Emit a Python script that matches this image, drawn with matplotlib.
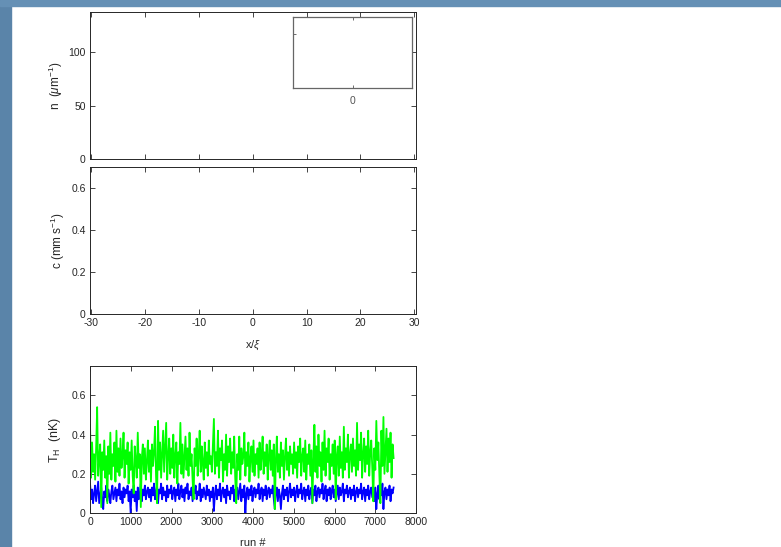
import numpy as np
import matplotlib
matplotlib.use("Agg")
import matplotlib.pyplot as plt
from matplotlib.patches import Rectangle

plt.rcParams['font.family'] = ['Liberation Sans', 'DejaVu Sans']
plt.rcParams['mathtext.fontset'] = 'custom'
plt.rcParams['mathtext.rm'] = 'Liberation Sans'
plt.rcParams['mathtext.it'] = 'Liberation Sans:italic'
plt.rcParams['axes.unicode_minus'] = False

# panel limits / ticks
x_ticks = [-30, -20, -10, 0, 10, 20, 30]
n_ticks = [0, 50, 100]
c_ticks = [0, 0.2, 0.4, 0.6]
run_ticks = [0, 1000, 2000, 3000, 4000, 5000, 6000, 7000, 8000]
th_ticks = [0, 0.2, 0.4, 0.6]

# T_H per run (green and blue traces), ~25 runs apart
th_green = [
    0.45, 0.18, 0.36, 0.21, 0.30, 0.17, 0.33, 0.54, 0.19, 0.28, 0.35, 0.03, 0.31, 0.22, 0.37, 0.18, 0.29, 0.05, 0.34, 0.20,
    0.41, 0.17, 0.30, 0.24, 0.36, 0.16, 0.42, 0.21, 0.33, 0.19, 0.38, 0.23, 0.29, 0.41, 0.18, 0.32, 0.25, 0.36, 0.15, 0.31,
    0.22, 0.37, 0.19, 0.10, 0.34, 0.27, 0.18, 0.41, 0.23, 0.30, 0.03, 0.28, 0.35, 0.20, 0.33, 0.17, 0.26, 0.37, 0.21, 0.32,
    0.16, 0.35, 0.24, 0.31, 0.44, 0.19, 0.05, 0.47, 0.22, 0.36, 0.18, 0.30, 0.42, 0.21, 0.34, 0.46, 0.17, 0.29, 0.38, 0.20,
    0.33, 0.23, 0.40, 0.18, 0.29, 0.36, 0.15, 0.31, 0.25, 0.46, 0.20, 0.35, 0.18, 0.28, 0.39, 0.22, 0.33, 0.19, 0.41, 0.24,
    0.30, 0.17, 0.07, 0.33, 0.24, 0.38, 0.19, 0.29, 0.42, 0.21, 0.34, 0.26, 0.17, 0.36, 0.23, 0.31, 0.19, 0.37, 0.25, 0.29,
    0.21, 0.34, 0.48, 0.20, 0.31, 0.24, 0.42, 0.18, 0.33, 0.27, 0.37, 0.16, 0.30, 0.22, 0.40, 0.19, 0.34, 0.26, 0.38, 0.20,
    0.31, 0.23, 0.39, 0.18, 0.05, 0.30, 0.22, 0.39, 0.17, 0.33, 0.25, 0.29, 0.41, 0.19, 0.31, 0.24, 0.36, 0.16, 0.28, 0.34,
    0.21, 0.37, 0.19, 0.30, 0.25, 0.33, 0.18, 0.36, 0.22, 0.29, 0.39, 0.20, 0.31, 0.24, 0.35, 0.17, 0.28, 0.37, 0.22, 0.32,
    0.19, 0.35, 0.02, 0.27, 0.39, 0.21, 0.30, 0.18, 0.36, 0.24, 0.32, 0.17, 0.29, 0.38, 0.22, 0.31, 0.19, 0.34, 0.25, 0.30,
    0.20, 0.36, 0.23, 0.31, 0.18, 0.34, 0.26, 0.38, 0.19, 0.29, 0.33, 0.21, 0.37, 0.17, 0.30, 0.25, 0.35, 0.19, 0.32, 0.05,
    0.28, 0.45, 0.21, 0.34, 0.18, 0.40, 0.24, 0.31, 0.16, 0.36, 0.22, 0.42, 0.19, 0.33, 0.26, 0.38, 0.17, 0.30, 0.24, 0.35,
    0.20, 0.37, 0.07, 0.29, 0.34, 0.19, 0.39, 0.23, 0.31, 0.18, 0.44, 0.22, 0.33, 0.26, 0.40, 0.18, 0.30, 0.35, 0.21, 0.38,
    0.24, 0.32, 0.19, 0.46, 0.22, 0.35, 0.27, 0.41, 0.18, 0.30, 0.38, 0.21, 0.34, 0.25, 0.42, 0.19, 0.31, 0.37, 0.23, 0.06,
    0.33, 0.22, 0.47, 0.27, 0.36, 0.19, 0.05, 0.42, 0.24, 0.49, 0.20, 0.31, 0.43, 0.21, 0.38, 0.26, 0.41, 0.18, 0.35, 0.28,
]
th_blue = [
    0.15, 0.07, 0.12, 0.05, 0.10, 0.14, 0.06, 0.11, 0.16, 0.05, 0.09, 0.13, 0.07, 0.02, 0.11, 0.08, 0.14, 0.06, 0.12, 0.09,
    0.05, 0.11, 0.14, 0.07, 0.10, 0.13, 0.06, 0.12, 0.09, 0.15, 0.07, 0.11, 0.05, 0.13, 0.08, 0.12, 0.10, 0.14, 0.06, 0.11,
    0.00, 0.12, 0.08, 0.14, 0.06, 0.11, 0.01, 0.13, 0.07, 0.10, 0.15, 0.06, 0.12, 0.09, 0.14, 0.07, 0.11, 0.13, 0.08, 0.12,
    0.06, 0.13, 0.09, 0.15, 0.07, 0.11, 0.14, 0.05, 0.12, 0.10, 0.15, 0.07, 0.13, 0.09, 0.11, 0.06, 0.14, 0.08, 0.12, 0.10,
    0.14, 0.07, 0.11, 0.13, 0.06, 0.12, 0.09, 0.15, 0.07, 0.11, 0.14, 0.08, 0.12, 0.06, 0.13, 0.10, 0.15, 0.07, 0.11, 0.09,
    0.13, 0.06, 0.12, 0.10, 0.14, 0.07, 0.11, 0.09, 0.15, 0.06, 0.12, 0.08, 0.13, 0.10, 0.07, 0.14, 0.09, 0.12, 0.06, 0.11,
    0.08, 0.13, 0.01, 0.10, 0.14, 0.07, 0.12, 0.09, 0.15, 0.06, 0.11, 0.13, 0.08, 0.12, 0.05, 0.14, 0.09, 0.11, 0.07, 0.13,
    0.10, 0.14, 0.06, 0.12, 0.09, 0.13, 0.07, 0.11, 0.15, 0.06, 0.12, 0.08, 0.14, 0.00, 0.10, 0.13, 0.07, 0.12, 0.09, 0.14,
    0.06, 0.11, 0.13, 0.08, 0.12, 0.10, 0.15, 0.07, 0.11, 0.13, 0.06, 0.12, 0.09, 0.14, 0.07, 0.11, 0.13, 0.08, 0.12, 0.10,
    0.14, 0.07, 0.02, 0.11, 0.13, 0.06, 0.12, 0.09, 0.02, 0.10, 0.14, 0.07, 0.12, 0.09, 0.13, 0.06, 0.11, 0.15, 0.08, 0.12,
    0.09, 0.13, 0.06, 0.11, 0.14, 0.08, 0.12, 0.10, 0.15, 0.07, 0.11, 0.13, 0.06, 0.12, 0.09, 0.14, 0.07, 0.11, 0.13, 0.05,
    0.12, 0.09, 0.14, 0.06, 0.11, 0.13, 0.08, 0.12, 0.10, 0.15, 0.07, 0.11, 0.14, 0.06, 0.12, 0.09, 0.13, 0.07, 0.11, 0.14,
    0.08, 0.12, 0.06, 0.10, 0.14, 0.07, 0.13, 0.09, 0.11, 0.15, 0.06, 0.12, 0.10, 0.14, 0.08, 0.11, 0.13, 0.07, 0.12, 0.09,
    0.14, 0.06, 0.11, 0.13, 0.08, 0.12, 0.10, 0.15, 0.07, 0.11, 0.13, 0.06, 0.12, 0.09, 0.14, 0.07, 0.11, 0.13, 0.08, 0.12,
    0.06, 0.13, 0.02, 0.10, 0.14, 0.07, 0.12, 0.09, 0.15, 0.02, 0.11, 0.13, 0.07, 0.12, 0.09, 0.14, 0.06, 0.12, 0.10, 0.13,
]
last_run = 7450
runs = np.linspace(1, last_run, len(th_green))

AX_COL = '#262626'
W, H = 781, 547


def px_rect(x0, y0, x1, y1):
    # pixel box (top-left origin) -> figure fraction
    return [x0 / W, 1 - y1 / H, (x1 - x0) / W, (y1 - y0) / H]


def matlab_style(ax, fs=7.5):
    ax.tick_params(direction='in', top=True, right=True, length=3.5, width=0.6,
                   colors=AX_COL, labelsize=fs, pad=3)
    for s in ax.spines.values():
        s.set_color(AX_COL)
        s.set_linewidth(0.7)


fig = plt.figure(figsize=(W / 100, H / 100), dpi=100)
fig.patch.set_facecolor('white')

# window frame strips
fig.patches.append(Rectangle((0, 0), 11 / W, 1, transform=fig.transFigure,
                             color='#5a84a9', zorder=-1))
fig.patches.append(Rectangle((0, 1 - 6 / H), 1, 6 / H, transform=fig.transFigure,
                             color='#6590b5', zorder=-1))

# top: density
ax1 = fig.add_axes(px_rect(90, 12, 416, 159))
ax1.set_xlim(-30.2, 30.3)
ax1.set_ylim(0, 138)
ax1.set_xticks(x_ticks)
ax1.set_xticklabels([])
ax1.set_yticks(n_ticks)
matlab_style(ax1)
ax1.set_ylabel(r'n  ($\mu$m$^{\mathdefault{-1}}$)', fontsize=8.5, color=AX_COL)
ax1.yaxis.set_label_coords(-0.077, 0.5)

# inset
axi = fig.add_axes(px_rect(293, 17, 412, 88))
axi.set_xlim(-1, 1)
axi.set_ylim(0, 1)
axi.set_xticks([0])
axi.set_yticks([0.76])
axi.set_yticklabels([])
axi.tick_params(direction='in', top=True, length=2, width=0.6,
                colors='#555555', labelsize=7.5, pad=6)
for s in axi.spines.values():
    s.set_color('#666666')
    s.set_linewidth(0.9)

# middle: sound speed
ax2 = fig.add_axes(px_rect(90, 167, 416, 314))
ax2.set_xlim(-30.2, 30.3)
ax2.set_ylim(0, 0.7)
ax2.set_xticks(x_ticks)
ax2.set_yticks(c_ticks)
ax2.set_yticklabels(['0', '0.2', '0.4', '0.6'])
matlab_style(ax2)
ax2.set_ylabel(r'c (mm s$^{\mathdefault{-1}}$)', fontsize=8.5, color=AX_COL)
ax2.yaxis.set_label_coords(-0.072, 0.5)
ax2.set_xlabel(r'x/$\xi$', fontsize=8, color=AX_COL)
ax2.xaxis.set_label_coords(0.5, -0.17)

# bottom: T_H vs run
ax3 = fig.add_axes(px_rect(90, 366, 416, 513))
ax3.plot(runs, th_blue, color=(0, 0, 1), lw=1.3)
ax3.plot(runs, th_green, color=(0, 1, 0), lw=1.3)
ax3.set_xlim(0, 8000)
ax3.set_ylim(0, 0.75)
ax3.set_xticks(run_ticks)
ax3.set_yticks(th_ticks)
ax3.set_yticklabels(['0', '0.2', '0.4', '0.6'])
matlab_style(ax3)
ax3.set_ylabel(r'T$_{\mathdefault{H}}$  (nK)', fontsize=9, color=AX_COL)
ax3.yaxis.set_label_coords(-0.083, 0.5)
ax3.set_xlabel('run #', fontsize=8, color=AX_COL)
ax3.xaxis.set_label_coords(0.5, -0.17)

fig.savefig('out.png', dpi=100)
